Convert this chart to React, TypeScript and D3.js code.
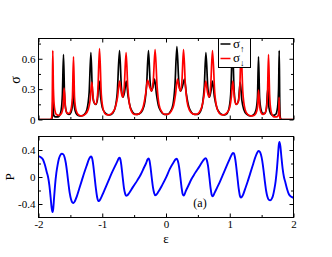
import React, {useEffect, useRef} from "react";
import * as d3 from "d3";

// conductance, spin up (black) : [epsilon, sigma]
const sigmaUp: [number, number][] = [
  [-2.00, 0], [-1.80, 0], [-1.79, 0.01], [-1.78, 0.06], [-1.774, 0.22], [-1.768, 0.08], [-1.76, 0.04],
  [-1.73, 0.025], [-1.70, 0.025], [-1.67, 0.04], [-1.645, 0.09], [-1.625, 0.25], [-1.608, 0.64],
  [-1.592, 0.25], [-1.575, 0.11], [-1.55, 0.06], [-1.52, 0.05], [-1.49, 0.07], [-1.47, 0.13],
  [-1.451, 0.28], [-1.435, 0.12], [-1.41, 0.06], [-1.38, 0.04], [-1.33, 0.035], [-1.28, 0.05],
  [-1.24, 0.10], [-1.205, 0.27], [-1.178, 0.66], [-1.155, 0.28], [-1.13, 0.17], [-1.10, 0.15],
  [-1.075, 0.20], [-1.048, 0.38], [-1.025, 0.22], [-1.00, 0.12], [-0.96, 0.07], [-0.92, 0.05],
  [-0.88, 0.045], [-0.84, 0.06], [-0.80, 0.11], [-0.765, 0.26], [-0.729, 0.68], [-0.70, 0.32],
  [-0.675, 0.22], [-0.65, 0.27], [-0.624, 0.38], [-0.595, 0.23], [-0.56, 0.12], [-0.52, 0.07],
  [-0.47, 0.05], [-0.42, 0.055], [-0.37, 0.09], [-0.33, 0.18], [-0.305, 0.33], [-0.275, 0.68],
  [-0.25, 0.38], [-0.23, 0.28], [-0.205, 0.32], [-0.180, 0.40], [-0.15, 0.25], [-0.12, 0.14],
  [-0.08, 0.08], [-0.03, 0.05], [0.02, 0.05], [0.07, 0.08], [0.11, 0.15], [0.14, 0.33],
  [0.171, 0.72], [0.20, 0.38], [0.225, 0.28], [0.26, 0.33], [0.290, 0.40], [0.32, 0.25],
  [0.36, 0.12], [0.40, 0.07], [0.45, 0.05], [0.50, 0.05], [0.54, 0.08], [0.575, 0.16],
  [0.60, 0.32], [0.626, 0.66], [0.655, 0.32], [0.68, 0.22], [0.705, 0.28], [0.729, 0.38],
  [0.76, 0.22], [0.80, 0.11], [0.85, 0.06], [0.90, 0.045], [0.94, 0.05], [0.98, 0.09],
  [1.015, 0.25], [1.043, 0.70], [1.07, 0.27], [1.10, 0.15], [1.135, 0.18], [1.164, 0.37],
  [1.19, 0.19], [1.22, 0.10], [1.27, 0.05], [1.32, 0.035], [1.37, 0.045], [1.41, 0.09],
  [1.435, 0.22], [1.451, 0.62], [1.468, 0.22], [1.49, 0.10], [1.52, 0.06], [1.55, 0.06],
  [1.575, 0.11], [1.598, 0.31], [1.615, 0.12], [1.64, 0.06], [1.68, 0.04], [1.72, 0.05],
  [1.75, 0.12], [1.766, 0.30], [1.776, 0.68], [1.784, 0.20], [1.79, 0.04], [1.80, 0.005],
  [1.82, 0], [2.00, 0],
];

// conductance, spin down (red)
const sigmaDown: [number, number][] = [
  [-2.00, 0], [-1.82, 0], [-1.80, 0.005], [-1.79, 0.04], [-1.784, 0.20], [-1.776, 0.68],
  [-1.766, 0.30], [-1.75, 0.12], [-1.72, 0.05], [-1.68, 0.04], [-1.64, 0.06], [-1.615, 0.12],
  [-1.598, 0.31], [-1.575, 0.11], [-1.55, 0.06], [-1.52, 0.06], [-1.49, 0.10], [-1.468, 0.22],
  [-1.451, 0.62], [-1.435, 0.22], [-1.41, 0.09], [-1.37, 0.045], [-1.32, 0.035], [-1.27, 0.05],
  [-1.22, 0.10], [-1.19, 0.19], [-1.164, 0.37], [-1.135, 0.18], [-1.10, 0.15], [-1.07, 0.27],
  [-1.043, 0.70], [-1.015, 0.25], [-0.98, 0.09], [-0.94, 0.05], [-0.90, 0.045], [-0.85, 0.06],
  [-0.80, 0.11], [-0.76, 0.22], [-0.729, 0.38], [-0.705, 0.28], [-0.68, 0.22], [-0.655, 0.32],
  [-0.626, 0.66], [-0.60, 0.32], [-0.575, 0.16], [-0.54, 0.08], [-0.50, 0.05], [-0.45, 0.05],
  [-0.40, 0.07], [-0.36, 0.12], [-0.32, 0.25], [-0.290, 0.39], [-0.26, 0.33], [-0.225, 0.28],
  [-0.20, 0.38], [-0.171, 0.69], [-0.14, 0.33], [-0.11, 0.15], [-0.07, 0.08], [-0.02, 0.05],
  [0.03, 0.05], [0.08, 0.08], [0.12, 0.14], [0.15, 0.25], [0.180, 0.40], [0.205, 0.32],
  [0.23, 0.28], [0.25, 0.38], [0.275, 0.69], [0.305, 0.33], [0.33, 0.18], [0.37, 0.09],
  [0.42, 0.055], [0.47, 0.05], [0.52, 0.07], [0.56, 0.12], [0.595, 0.23], [0.624, 0.38],
  [0.65, 0.27], [0.675, 0.22], [0.70, 0.32], [0.729, 0.68], [0.765, 0.26], [0.80, 0.11],
  [0.84, 0.06], [0.88, 0.045], [0.92, 0.05], [0.96, 0.07], [1.00, 0.12], [1.025, 0.22],
  [1.048, 0.38], [1.075, 0.20], [1.10, 0.15], [1.13, 0.17], [1.155, 0.28], [1.178, 0.66],
  [1.205, 0.27], [1.24, 0.10], [1.28, 0.05], [1.33, 0.035], [1.38, 0.04], [1.41, 0.06],
  [1.435, 0.12], [1.451, 0.29], [1.47, 0.13], [1.49, 0.07], [1.52, 0.05], [1.55, 0.06],
  [1.575, 0.11], [1.592, 0.25], [1.608, 0.64], [1.625, 0.25], [1.645, 0.09], [1.67, 0.04],
  [1.70, 0.025], [1.73, 0.025], [1.76, 0.04], [1.768, 0.08], [1.774, 0.22], [1.78, 0.06],
  [1.79, 0.01], [1.80, 0], [2.00, 0],
];

// spin polarization (blue)
const polarization: [number, number][] = [
  [-2.00, 0.31], [-1.96, 0.29], [-1.93, 0.26], [-1.90, 0.18], [-1.87, 0.07], [-1.85, 0.0],
  [-1.83, -0.12], [-1.81, -0.30], [-1.795, -0.45], [-1.78, -0.52], [-1.77, -0.48], [-1.755, -0.30],
  [-1.74, -0.12], [-1.72, 0.06], [-1.70, 0.18], [-1.68, 0.27], [-1.66, 0.32], [-1.635, 0.345],
  [-1.61, 0.335], [-1.59, 0.29], [-1.57, 0.20], [-1.55, 0.06], [-1.53, -0.10], [-1.51, -0.24],
  [-1.49, -0.33], [-1.47, -0.375], [-1.45, -0.385], [-1.43, -0.36], [-1.40, -0.29], [-1.36, -0.17],
  [-1.32, -0.05], [-1.28, 0.07], [-1.24, 0.18], [-1.21, 0.26], [-1.19, 0.295], [-1.175, 0.305],
  [-1.16, 0.28], [-1.14, 0.17], [-1.12, 0.0], [-1.10, -0.17], [-1.08, -0.30], [-1.065, -0.35],
  [-1.05, -0.355], [-1.03, -0.33], [-1.00, -0.27], [-0.95, -0.16], [-0.90, -0.05], [-0.85, 0.06],
  [-0.80, 0.16], [-0.76, 0.24], [-0.74, 0.28], [-0.728, 0.286], [-0.715, 0.26], [-0.70, 0.17],
  [-0.68, 0.0], [-0.66, -0.16], [-0.64, -0.25], [-0.625, -0.28], [-0.61, -0.275], [-0.58, -0.24],
  [-0.52, -0.15], [-0.45, -0.05], [-0.40, 0.03], [-0.35, 0.13], [-0.31, 0.21], [-0.29, 0.26],
  [-0.275, 0.276], [-0.26, 0.25], [-0.245, 0.16], [-0.225, 0.0], [-0.205, -0.15], [-0.185, -0.24],
  [-0.17, -0.27], [-0.155, -0.265], [-0.12, -0.22], [-0.06, -0.12], [0.00, -0.01],
  [0.06, 0.12], [0.12, 0.22], [0.155, 0.265], [0.17, 0.27], [0.185, 0.24], [0.205, 0.15],
  [0.225, 0.0], [0.245, -0.16], [0.26, -0.25], [0.275, -0.276], [0.29, -0.26], [0.31, -0.21],
  [0.35, -0.13], [0.40, -0.03], [0.45, 0.05], [0.52, 0.15], [0.58, 0.24], [0.61, 0.275],
  [0.625, 0.28], [0.64, 0.25], [0.66, 0.16], [0.68, 0.0], [0.70, -0.17], [0.715, -0.26],
  [0.728, -0.286], [0.74, -0.28], [0.76, -0.24], [0.80, -0.16], [0.85, -0.06], [0.90, 0.05],
  [0.95, 0.16], [1.00, 0.27], [1.03, 0.33], [1.05, 0.355], [1.065, 0.35], [1.08, 0.30],
  [1.10, 0.17], [1.12, 0.0], [1.14, -0.17], [1.16, -0.28], [1.175, -0.305], [1.19, -0.295],
  [1.21, -0.26], [1.24, -0.18], [1.28, -0.07], [1.32, 0.05], [1.36, 0.17], [1.40, 0.29],
  [1.43, 0.36], [1.45, 0.385], [1.47, 0.375], [1.49, 0.33], [1.51, 0.24], [1.53, 0.10],
  [1.55, -0.06], [1.57, -0.20], [1.59, -0.29], [1.61, -0.335], [1.635, -0.345], [1.66, -0.32],
  [1.68, -0.27], [1.70, -0.18], [1.72, -0.06], [1.74, 0.12], [1.755, 0.30], [1.77, 0.48],
  [1.78, 0.52], [1.795, 0.45], [1.81, 0.30], [1.83, 0.12], [1.85, 0.0], [1.87, -0.07],
  [1.90, -0.18], [1.93, -0.26], [1.96, -0.29], [2.00, -0.31],
];

const xMajor = [-2, -1, 0, 1, 2];
const xMinor = [-1.5, -0.5, 0.5, 1.5];
const sigmaMajor = [0, 0.3, 0.6];
const sigmaMinor = [0.15, 0.45, 0.75];
const pMajor = [-0.4, 0, 0.4];
const pMinor = [-0.2, 0.2];

const serif = "'Liberation Serif', 'Times New Roman', serif";

export default function App(): React.ReactElement {
  const svgRef = useRef<SVGSVGElement>(null);

  useEffect(() => {
    if (svgRef.current === null) return;
    const svg = d3.select(svgRef.current);
    svg.selectAll("*").remove();

    const x = d3.scaleLinear().domain([-2, 2]).range([38.5, 293.5]);
    const yTop = d3.scaleLinear().domain([0, 0.8]).range([119.5, 38.5]);
    const yBot = d3.scaleLinear().domain([-0.6, 0.6]).range([217.5, 136.5]);

    // curves first, so frames and ticks sit on top
    const lineTop = d3.line<[number, number]>()
      .x(d => x(d[0])).y(d => yTop(d[1])).curve(d3.curveMonotoneX);
    const lineBot = d3.line<[number, number]>()
      .x(d => x(d[0])).y(d => yBot(d[1])).curve(d3.curveMonotoneX);

    const defs = svg.append("defs");
    [["clipTop", yTop], ["clipBot", yBot]].forEach(([id, y]: any) => {
      const [yb, yt] = y.range();
      defs.append("clipPath").attr("id", id)
        .append("rect").attr("x", x.range()[0]).attr("y", yt)
        .attr("width", x.range()[1] - x.range()[0]).attr("height", yb - yt);
    });

    const curvesTop = svg.append("g").attr("clip-path", "url(#clipTop)");
    curvesTop.append("path").datum(sigmaUp).attr("d", lineTop)
      .attr("fill", "none").attr("stroke", "#000").attr("stroke-width", 1.7);
    curvesTop.append("path").datum(sigmaDown).attr("d", lineTop)
      .attr("fill", "none").attr("stroke", "#ff0000").attr("stroke-width", 1.7);

    svg.append("g").attr("clip-path", "url(#clipBot)")
      .append("path").datum(polarization).attr("d", lineBot)
      .attr("fill", "none").attr("stroke", "#0000ff").attr("stroke-width", 1.9);

    function frame(y: d3.ScaleLinear<number, number>, major: number[], minor: number[], xLabels: boolean) {
      const [yb, yt] = y.range();
      const g = svg.append("g");
      const fmt = (d: any) => String(d);
      const none = () => "";

      g.append("g").attr("transform", `translate(0,${yb})`)
        .call(d3.axisBottom(x).tickValues(xMajor).tickSize(-4).tickPadding(3).tickFormat(xLabels ? fmt : none));
      g.append("g").attr("transform", `translate(0,${yb})`)
        .call(d3.axisBottom(x).tickValues(xMinor).tickSize(-2.5).tickFormat(none));
      g.append("g").attr("transform", `translate(0,${yt})`)
        .call(d3.axisTop(x).tickValues(xMajor).tickSize(-4).tickFormat(none));
      g.append("g").attr("transform", `translate(0,${yt})`)
        .call(d3.axisTop(x).tickValues(xMinor).tickSize(-2.5).tickFormat(none));
      g.append("g").attr("transform", `translate(${x.range()[0]},0)`)
        .call(d3.axisLeft(y).tickValues(major).tickSize(-4).tickPadding(3).tickFormat(fmt));
      g.append("g").attr("transform", `translate(${x.range()[0]},0)`)
        .call(d3.axisLeft(y).tickValues(minor).tickSize(-2.5).tickFormat(none));
      g.append("g").attr("transform", `translate(${x.range()[1]},0)`)
        .call(d3.axisRight(y).tickValues(major).tickSize(-4).tickFormat(none));
      g.append("g").attr("transform", `translate(${x.range()[1]},0)`)
        .call(d3.axisRight(y).tickValues(minor).tickSize(-2.5).tickFormat(none));
      g.selectAll(".domain").remove();
      g.selectAll("text").attr("fill", "#000").attr("font-family", serif).attr("font-size", 11);
      g.selectAll("line").attr("stroke", "#000");

      g.append("rect").attr("x", x.range()[0]).attr("y", yt)
        .attr("width", x.range()[1] - x.range()[0]).attr("height", yb - yt)
        .attr("fill", "none").attr("stroke", "#000").attr("stroke-width", 1);
    }

    frame(yTop, sigmaMajor, sigmaMinor, false);
    frame(yBot, pMajor, pMinor, true);

    // legend
    const lg = svg.append("g").attr("font-family", serif);
    lg.append("rect").attr("x", 218.5).attr("y", 38.5).attr("width", 32).attr("height", 29)
      .attr("fill", "#fff").attr("stroke", "#000").attr("stroke-width", 1);
    const entries = [
      {color: "#000", arrow: "\u2191", y: 44},
      {color: "#ff0000", arrow: "\u2193", y: 58.5},
    ];
    entries.forEach(e => {
      lg.append("line").attr("x1", 220.5).attr("x2", 230.5).attr("y1", e.y).attr("y2", e.y)
        .attr("stroke", e.color).attr("stroke-width", 1.5);
      const t = lg.append("text").attr("x", 233).attr("y", e.y + 3.5).attr("font-size", 13).attr("fill", "#000");
      t.append("tspan").text("\u03c3");
      t.append("tspan").attr("dy", 4).attr("font-size", 9).text(e.arrow);
    });

    // axis titles
    svg.append("text").attr("transform", "translate(20,80) rotate(-90)")
      .attr("text-anchor", "middle").attr("font-family", serif).attr("font-size", 14).text("\u03c3");
    svg.append("text").attr("transform", "translate(14,177) rotate(-90)")
      .attr("text-anchor", "middle").attr("font-family", serif).attr("font-size", 13).text("P");
    svg.append("text").attr("x", 166).attr("y", 242.5)
      .attr("text-anchor", "middle").attr("font-family", serif).attr("font-size", 13).text("\u03b5");
    svg.append("text").attr("x", 200).attr("y", 207)
      .attr("text-anchor", "middle").attr("font-family", serif).attr("font-size", 12).text("(a)");
  }, []);

  return (
    <svg ref={svgRef} width={332} height={257}
      style={{position: "absolute", left: 0, top: 0, background: "#fff"}}></svg>
  );
}
